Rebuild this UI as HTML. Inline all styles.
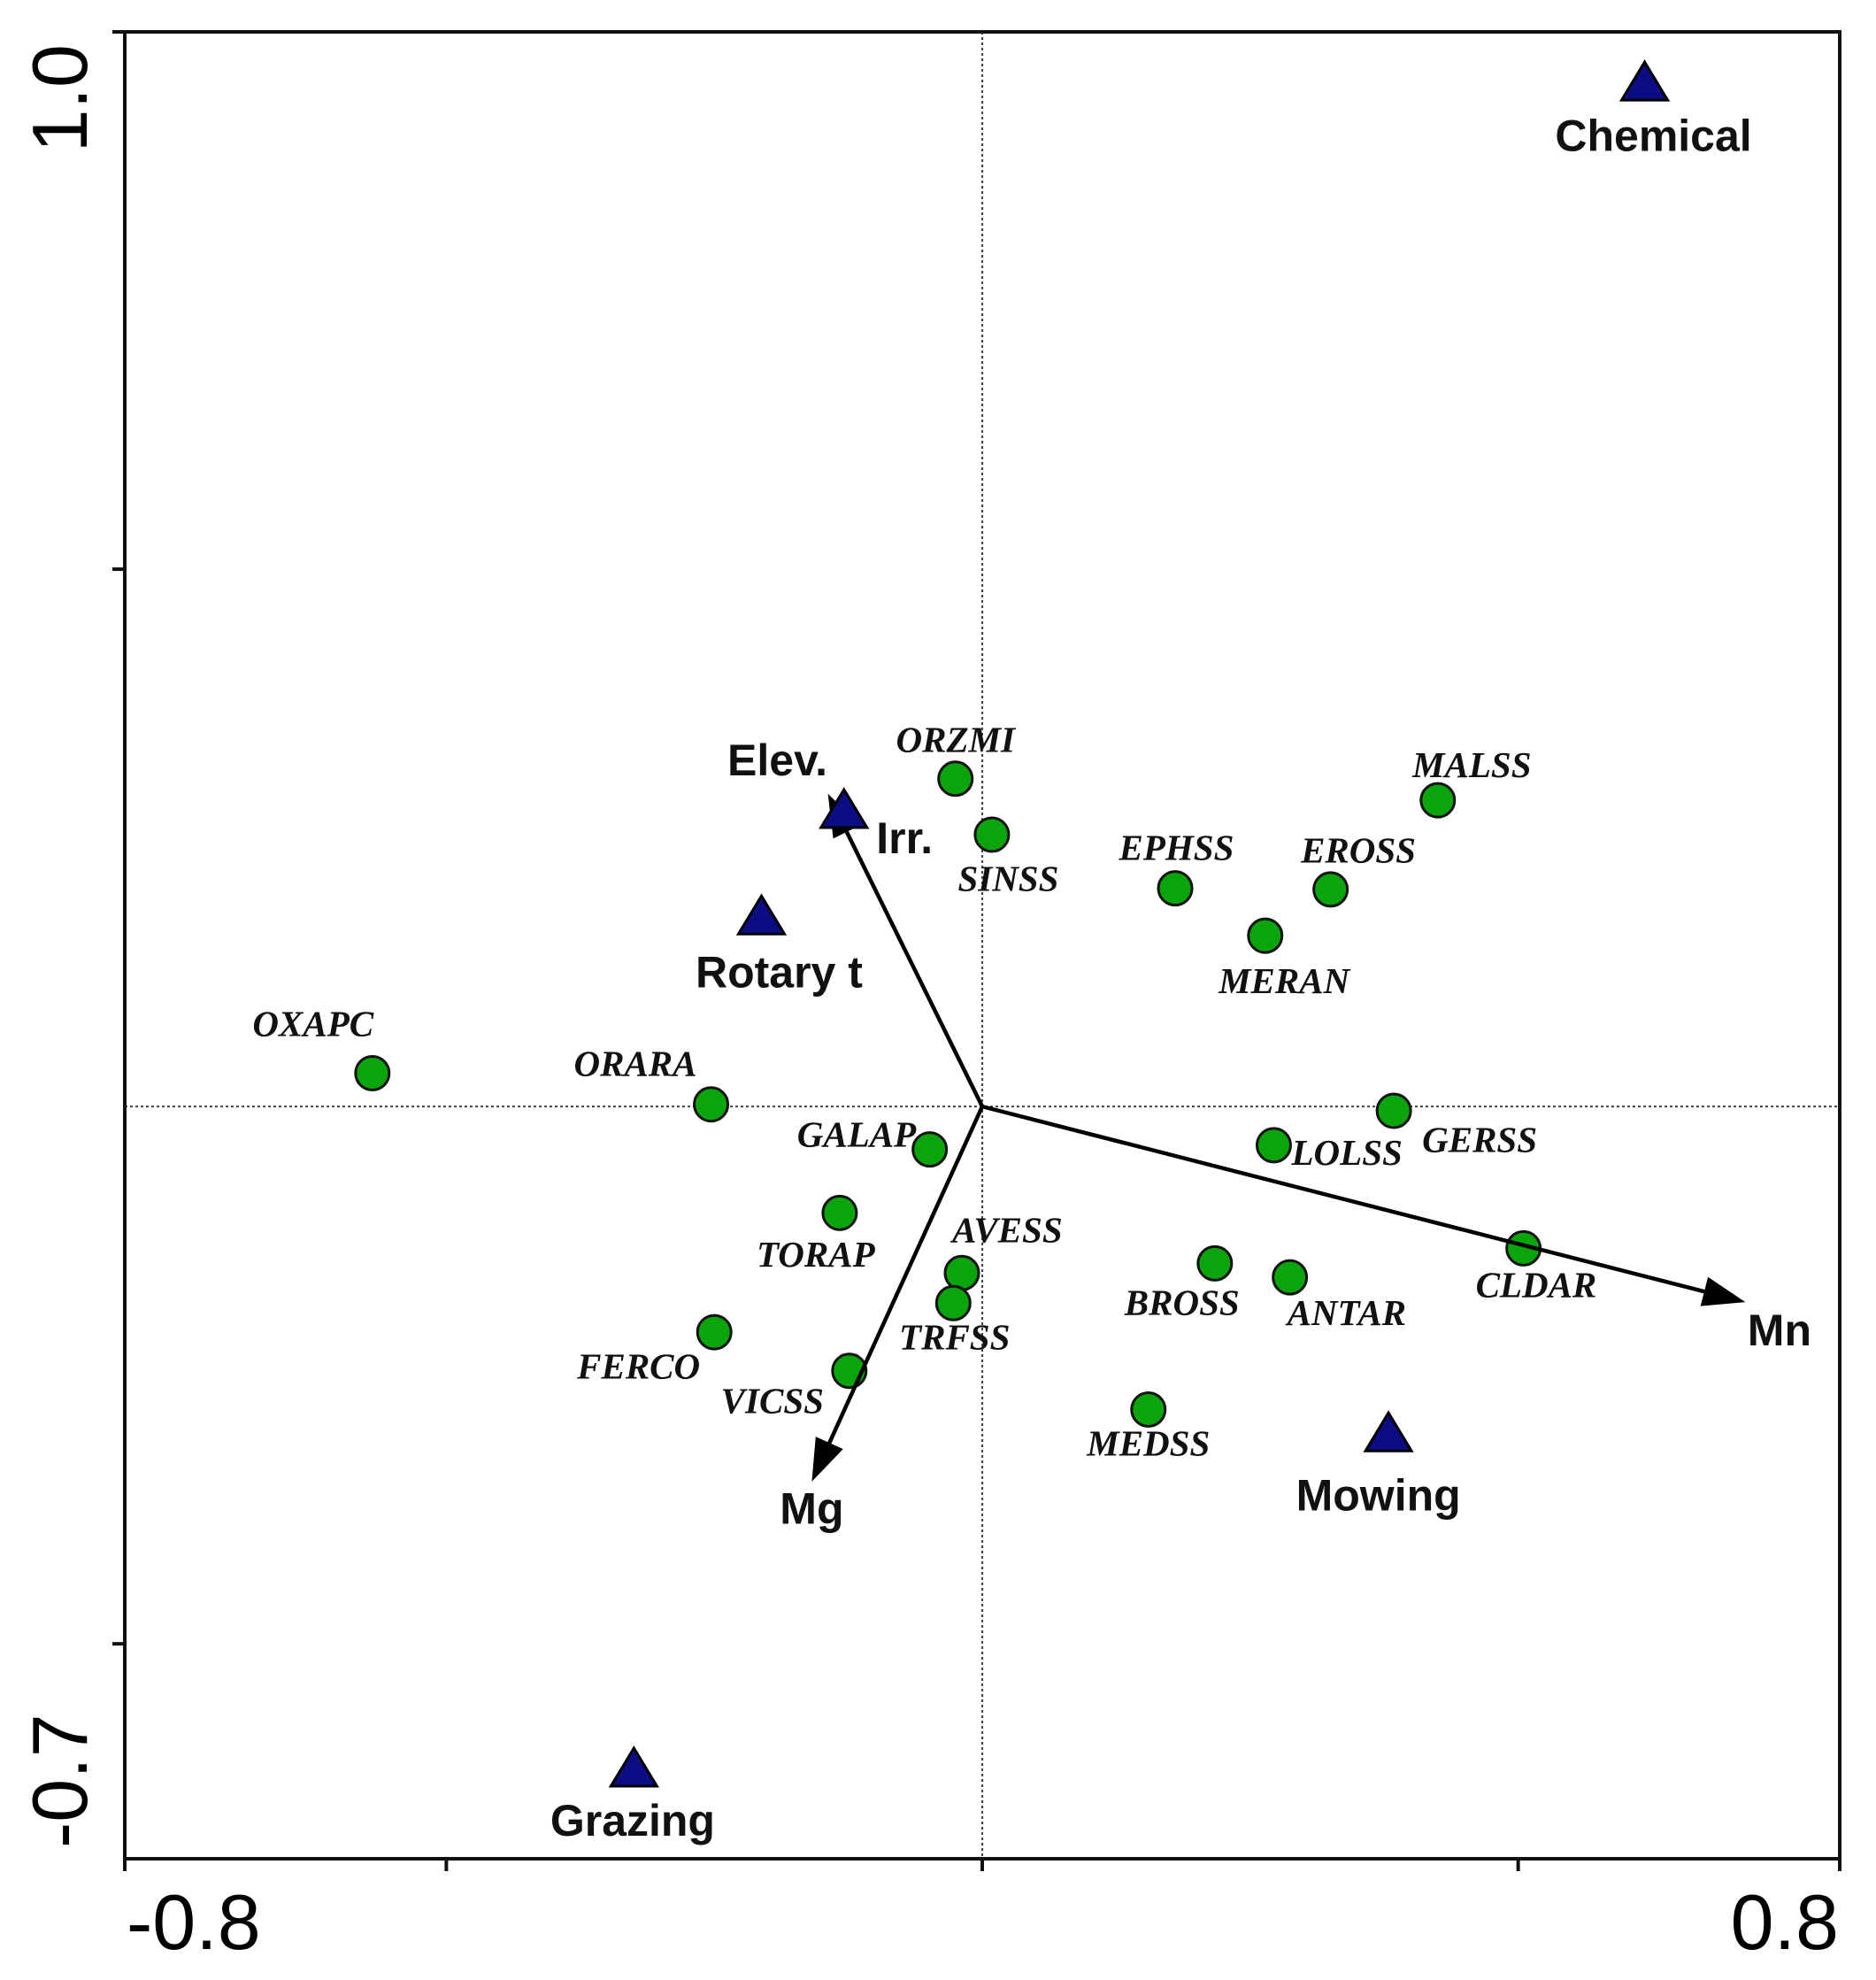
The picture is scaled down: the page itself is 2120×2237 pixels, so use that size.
<!DOCTYPE html>
<html><head><meta charset="utf-8"><style>
html,body{margin:0;padding:0;background:#fff;}
svg{display:block;}
.sp{font-family:"Liberation Serif",serif;font-style:italic;font-weight:bold;font-size:41px;fill:#111;}
.bl{font-family:"Liberation Sans",sans-serif;font-weight:bold;font-size:50px;fill:#111;}
.tk{font-family:"Liberation Sans",sans-serif;font-size:88px;fill:#000;}
</style></head><body>
<svg id="chart" width="2120" height="2237" viewBox="0 0 2120 2237">
<g id="axes"></g>
<g id="points"></g>
<g id="arrows"></g>
<g id="tris"></g>
</svg>
<script>
const speciesNames=["OXAPC","ORARA","GALAP","TORAP","FERCO","VICSS","AVESS","TRFSS","ORZMI","SINSS","EPHSS","MERAN","EROSS","MALSS","GERSS","LOLSS","CLDAR","BROSS","ANTAR","MEDSS"];
const speciesX=[-0.569,-0.253,-0.049,-0.133,-0.250,-0.124,-0.019,-0.027,-0.025,0.009,0.180,0.264,0.325,0.425,0.384,0.272,0.505,0.217,0.287,0.155];
const speciesY=[0.031,0.002,-0.040,-0.099,-0.210,-0.246,-0.155,-0.183,0.305,0.253,0.203,0.159,0.202,0.285,-0.004,-0.036,-0.132,-0.146,-0.159,-0.282];
const labelDX=[-47,-60,-58,-19,-60,-61,36,1,0,13,1,15,22,27,68,58,10,-26,45,0];
const labelDY=[-36,-29,-9,36,30,27,-31,30,-28,38,-29,39,-28,-25,26,9,32,34,31,30];
const treatNames=["Chemical","Irr.","Rotary t","Mowing","Grazing"];
const treatX=[0.618,-0.129,-0.206,0.379,-0.325];
const treatY=[0.953,0.276,0.177,-0.304,-0.616];
const treatLDX=[7,48,14,-8,-1];
const treatLDY=[45,25,47,52,44];
const envNames=["Elev.","Mg","Mn"];
const envX=[-0.144,-0.159,0.712];
const envY=[0.291,-0.349,-0.182];
const envLDX=[-40,0,27];
const envLDY=[-24,24,25];
const xTicks=[-0.8,-0.5,0,0.5,0.8];
const yTicks=[1.0,0.5,-0.5,-0.7];
const L=141,R=2079,T=36,B=2100,S=1.426;
const sx=v=>L+(v+0.8)/1.6*(R-L);
const sy=v=>T+(1.0-v)/1.7*(B-T);
const NS="http://www.w3.org/2000/svg";
function mk(tag,parent,attrs){const e=document.createElementNS(NS,tag);for(const k in attrs)e.setAttribute(k,attrs[k]);parent.appendChild(e);return e;}
const ax=document.getElementById('axes');
let z1=mk('line',ax,{x1:sx(0),y1:T,x2:sx(0),y2:B,stroke:'#444','stroke-width':2,'stroke-dasharray':'3,3'});

let z2=mk('line',ax,{x1:L,y1:sy(0),x2:R,y2:sy(0),stroke:'#444','stroke-width':2,'stroke-dasharray':'3,3'});

let fr=mk('rect',ax,{x:L,y:T,width:R-L,height:B-T,fill:'none',stroke:'#111','stroke-width':4});

xTicks.forEach(v=>{let t=mk('line',ax,{x1:sx(v),y1:B,x2:sx(v),y2:B+14,stroke:'#111','stroke-width':4});
});
yTicks.forEach(v=>{if(v===-0.7)return;let t=mk('line',ax,{x1:L-14,y1:sy(v),x2:L,y2:sy(v),stroke:'#111','stroke-width':4});
});
let t1=mk('text',ax,{x:143,y:2202,'class':'tk','text-anchor':'start'});t1.textContent='-0.8';

let t2=mk('text',ax,{x:2078,y:2202,'class':'tk','text-anchor':'end'});t2.textContent='0.8';

let t3=mk('text',ax,{x:0,y:0,'class':'tk','text-anchor':'end',transform:'translate(98,50) rotate(-90)'});t3.textContent='1.0';

let t4=mk('text',ax,{x:0,y:0,'class':'tk','text-anchor':'start',transform:'translate(98,2088) rotate(-90)'});t4.textContent='-0.7';

const pg=document.getElementById('points');
speciesNames.forEach((n,i)=>{
 let c=mk('circle',pg,{cx:sx(speciesX[i]),cy:sy(speciesY[i]),r:19,fill:'#0aa50a',stroke:'#111','stroke-width':3});
 
 
 let t=mk('text',pg,{x:sx(speciesX[i])+labelDX[i]*S,y:sy(speciesY[i])+labelDY[i]*S,'class':'sp','text-anchor':'middle','dominant-baseline':'middle'});
 t.textContent=n;
 
 
});
const ar=document.getElementById('arrows');
envNames.forEach((n,i)=>{
 const x0=sx(0),y0=sy(0),x1=sx(envX[i]),y1=sy(envY[i]);
 const dx=x1-x0,dy=y1-y0,len=Math.hypot(dx,dy),ux=dx/len,uy=dy/len;
 const hl=48,hw=17;
 const bx=x1-ux*hl,by=y1-uy*hl;
 let l=mk('line',ar,{x1:x0,y1:y0,x2:bx,y2:by,stroke:'#000','stroke-width':4.5});
 
 
 let h=mk('polygon',ar,{points:`${x1},${y1} ${bx-uy*hw},${by+ux*hw} ${bx+uy*hw},${by-ux*hw}`,fill:'#000'});
 
 
 let t=mk('text',ar,{x:x1+envLDX[i]*S,y:y1+envLDY[i]*S,'class':'bl','text-anchor':'middle','dominant-baseline':'middle'});
 t.textContent=n;
 
 
});
const tg=document.getElementById('tris');
treatNames.forEach((n,i)=>{
 const x=sx(treatX[i]),y=sy(treatY[i]);
 let p=mk('polygon',tg,{points:`${x-26},${y+20} ${x+26},${y+20} ${x},${y-23}`,fill:'#0c0c85',stroke:'#000','stroke-width':3});
 
 
 let t=mk('text',tg,{x:x+treatLDX[i]*S,y:y+treatLDY[i]*S,'class':'bl','text-anchor':'middle','dominant-baseline':'middle'});
 t.textContent=n;
 
 
});
</script>
</body></html>
